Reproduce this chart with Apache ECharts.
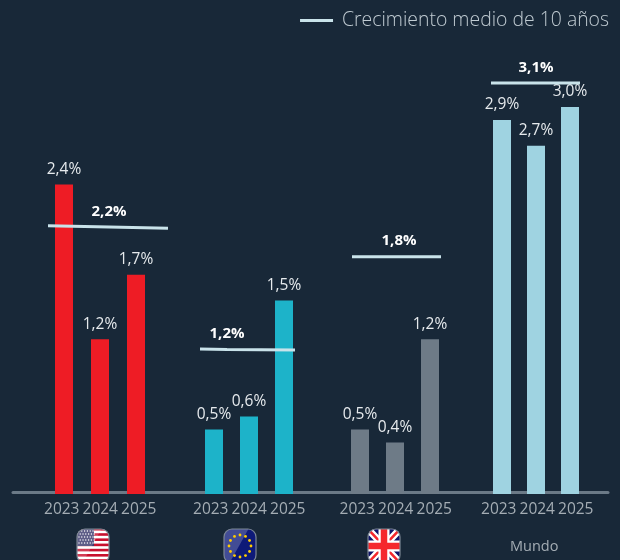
<!DOCTYPE html>
<html><head><meta charset="utf-8">
<style>html,body{margin:0;padding:0;background:#182838}#c{width:620px;height:560px}</style>
<script src="https://cdn.jsdelivr.net/npm/echarts@6/dist/echarts.min.js"></script>
</head><body><div id="c"></div>
<script>
const years = ['2023','2024','2025'];
const regions = ['EE. UU.','Eurozona','Reino Unido','Mundo'];
const usa = [2.4,1.2,1.7];
const eurozone = [0.5,0.6,1.5];
const uk = [0.5,0.4,1.2];
const world = [2.9,2.7,3.0];
const avgLabels = [2.2,1.2,1.8,3.1];
const avgUsaLine = [[48,2.08],[109,2.07],[168,2.06]];
const avgEuLine = [[200,1.124],[227,1.12],[295,1.116]];
const avgUkLine = [[352,1.84],[399,1.84],[441,1.84]];
const avgWorldLine = [[491,3.186],[536,3.186],[580,3.186]];

const groups = [usa,eurozone,uk,world];
const avgLines = [avgUsaLine,avgEuLine,avgUkLine,avgWorldLine];
const colors = ['#ee1c25','#1db3c9','#6e7b87','#9fd3e1'];
const barLeft = [46,196.5,342.5,485];
const barGroupWidth = [108,105,105,102];
const labelLeft = [42.5,191.5,338,479.5];
const TOP = 42.5, H = 451.5, YMAX = 3.5;
const FONT = '"Open Sans","Noto Sans",sans-serif';
const legendName = 'Crecimiento medio de 10 años';
const comma = v => v.toFixed(1).replace('.',',') + '%';

const grids=[], xAxes=[], yAxes=[], series=[];
function addGrid(g,x,y){ grids.push(g); const i=grids.length-1;
  xAxes.push(Object.assign({gridIndex:i},x)); yAxes.push(Object.assign({gridIndex:i,type:'value',min:0,max:YMAX,show:false},y||{})); return i; }

// baseline
addGrid({left:13,right:12,top:TOP-0.5,height:H-1},{type:'value',min:0,max:1,
  axisLine:{show:true,onZero:false,lineStyle:{color:'#6b7a87',width:3}},axisTick:{show:false},axisLabel:{show:false},splitLine:{show:false}});

groups.forEach((vals,k)=>{
  const b = addGrid({left:barLeft[k],width:barGroupWidth[k],top:TOP,height:H},{type:'category',data:years,
    axisLine:{show:false},axisTick:{show:false},axisLabel:{show:false}});
  series.push({type:'bar',name:regions[k],xAxisIndex:b,yAxisIndex:b,data:vals,barWidth:18,z:3,
    itemStyle:{color:colors[k]},
    label:{show:true,position:'top',distance:7,color:'#e6eaed',fontFamily:FONT,fontSize:15.5,formatter:p=>comma(p.value)}});
  addGrid({left:labelLeft[k],width:115.5,top:TOP,height:H},{type:'category',data:years,
    axisLine:{show:false},axisTick:{show:false},
    axisLabel:{color:'#a4adb4',fontFamily:FONT,fontSize:15.5,margin:8,interval:0},
    name:k===3?regions[3]:'',nameLocation:'middle',nameGap:45,
    nameTextStyle:{color:'#a4adb4',fontFamily:FONT,fontSize:14.5,padding:[0,6,0,0]}});
});

// average lines overlay
const ov = addGrid({left:0,width:620,top:TOP,height:H},{type:'value',min:0,max:620,show:false});
avgLines.forEach((line,k)=>{
  series.push({type:'line',name:legendName,xAxisIndex:ov,yAxisIndex:ov,z:5,
    data:line.map((p,i)=>({value:p,label:{show:i===1}})),
    showSymbol:true,symbol:'circle',symbolSize:0,clip:false,silent:true,
    lineStyle:{color:'#c9e3ea',width:3},itemStyle:{color:'#c9e3ea'},
    label:{show:false,position:'top',distance:8,color:'#ffffff',fontWeight:'bold',fontFamily:FONT,fontSize:15,
      formatter:()=>comma(avgLabels[k])}});
});

const frame = inner => 'data:image/svg+xml;charset=utf-8,'+encodeURIComponent(
 `<svg xmlns="http://www.w3.org/2000/svg" width="34" height="36" viewBox="0 0 34 36"><defs><clipPath id="r"><rect x="1" y="1" width="32" height="34" rx="8"/></clipPath></defs><g clip-path="url(#r)">${inner}</g><rect x="1" y="1" width="32" height="34" rx="8" fill="none" stroke="#7c8794" stroke-width="1.2"/></svg>`);
const gloss = '<polygon points="0,0 26,0 6,36 0,36" fill="#fff" fill-opacity=".18"/>';
let stripes=''; for(let i=0;i<7;i++) stripes+=`<rect x="0" y="${i*5.2}" width="34" height="2.6" fill="#c8102e"/>`;
let dots=''; for(let r=0;r<5;r++)for(let c=0;c<6;c++) dots+=`<circle cx="${3+c*2.8+(r%2)*1.2}" cy="${3+r*3}" r=".7" fill="#fff"/>`;
const usFlag = frame(`<rect width="34" height="36" fill="#fff"/>${stripes}<rect width="18" height="18" fill="#3c3b6e"/>${dots}${gloss}`);
let stars=''; for(let i=0;i<12;i++){const a=i*Math.PI/6; stars+=`<circle cx="${17+11*Math.cos(a)}" cy="${18+11*Math.sin(a)}" r="1.4" fill="#ffcc00"/>`;}
const euFlag = frame(`<rect width="34" height="36" fill="#0e1a78"/>${gloss.replace('.18','.22')}${stars}`);
const ukFlag = frame(`<rect width="34" height="36" fill="#10146a"/><path d="M0 0L34 36M34 0L0 36" stroke="#fff" stroke-width="7"/><path d="M0 0L34 36M34 0L0 36" stroke="#f5282d" stroke-width="2.5"/><path d="M17 0V36M0 18H34" stroke="#fff" stroke-width="11"/><path d="M17 0V36M0 18H34" stroke="#f5282d" stroke-width="6.5"/>`);

const chart = echarts.init(document.getElementById('c'),null,{renderer:'canvas'});
chart.setOption({
  animation:false,
  backgroundColor:'#182838',
  textStyle:{fontFamily:FONT},
  legend:{data:[legendName],right:6,top:6,icon:'rect',itemWidth:33,itemHeight:3,itemGap:9,selectedMode:false,
    textStyle:{color:'#c0cbd2',fontFamily:FONT,fontSize:19.4,fontWeight:300,padding:[0,0,0,4]}},
  grid:grids,xAxis:xAxes,yAxis:yAxes,series,
  graphic:[
    {type:'image',left:76,top:528,z:10,style:{image:usFlag,width:34,height:36}},
    {type:'image',left:223,top:528,z:10,style:{image:euFlag,width:34,height:36}},
    {type:'image',left:367,top:528,z:10,style:{image:ukFlag,width:34,height:36}}
  ]
});
</script></body></html>
